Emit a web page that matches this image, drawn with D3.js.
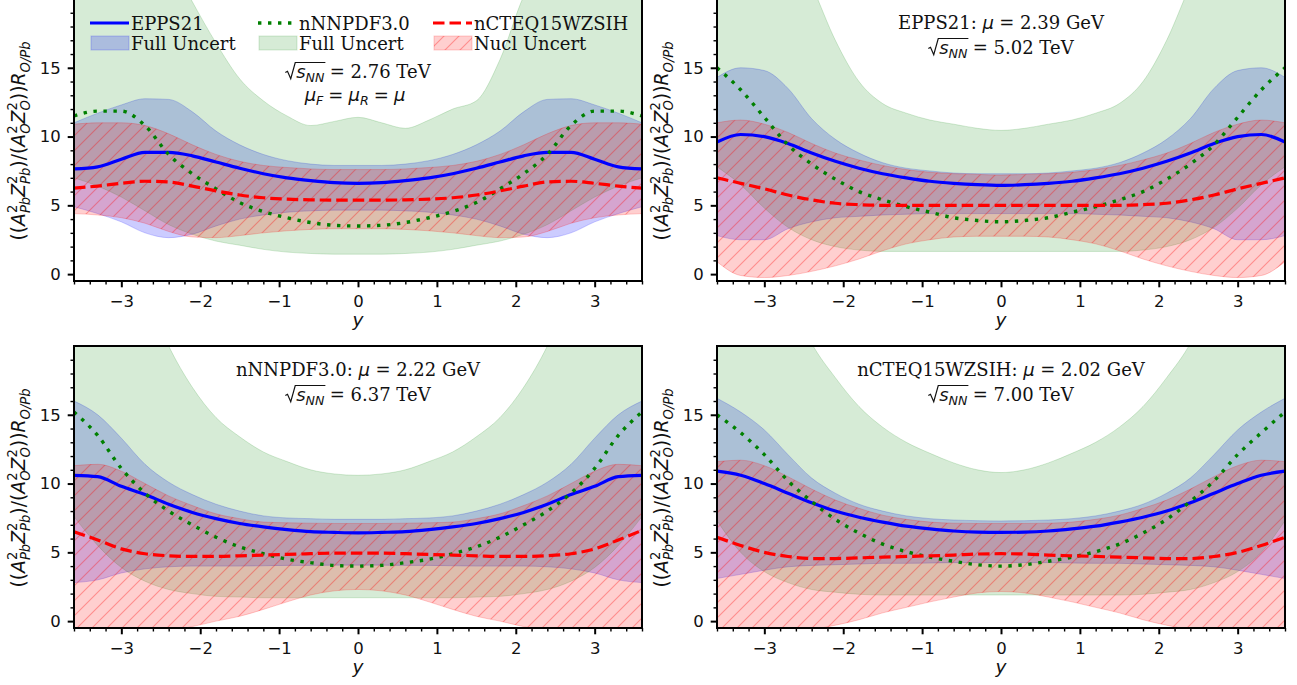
<!DOCTYPE html>
<html><head><meta charset="utf-8">
<script src="https://cdn.jsdelivr.net/npm/d3@7"></script>
<style>body{margin:0;background:#fff}text{white-space:pre}</style>
</head><body>
<script>
// ---------------- DATA ----------------
const X = [-3.6,-3.3,-3.0,-2.7,-2.4,-2.1,-1.8,-1.5,-1.2,-0.9,-0.6,-0.3,0,0.3,0.6,0.9,1.2,1.5,1.8,2.1,2.4,2.7,3.0,3.3,3.6];

// Top-left: sqrt(sNN)=2.76 TeV
const tl_epps    = [7.65,7.8,8.35,8.85,8.85,8.6,8.15,7.7,7.3,7.0,6.8,6.65,6.6,6.65,6.8,7.0,7.3,7.7,8.15,8.6,8.85,8.85,8.35,7.8,7.65];
const tl_epps_hi = [11.0,11.7,12.3,12.75,12.7,11.8,10.4,9.4,8.7,8.25,8.0,7.9,7.9,7.9,8.0,8.25,8.7,9.4,10.4,11.8,12.7,12.75,12.3,11.7,11.0];
const tl_epps_lo = [4.9,4.4,3.8,3.0,2.65,2.9,3.5,4.0,4.3,4.5,4.6,4.65,4.65,4.65,4.6,4.5,4.3,4.0,3.5,2.9,2.65,3.0,3.8,4.4,4.9];
const tl_nnpdf    = [11.5,11.85,11.85,10.8,8.7,7.3,6.2,5.2,4.55,4.1,3.75,3.55,3.5,3.55,3.75,4.1,4.55,5.2,6.2,7.3,8.7,10.8,11.85,11.85,11.5];
const tl_nnpdf_hi = [32,32,30,27,23,19.8,16.8,14.2,12.6,11.5,10.8,11.1,11.4,11.0,10.6,11.2,12.0,12.6,15.6,20.2,23,27,30,32,32];
const tl_nnpdf_lo = [7.0,6.4,5.6,4.6,3.6,2.9,2.4,2.1,1.8,1.6,1.5,1.45,1.45,1.45,1.5,1.6,1.8,2.1,2.4,2.9,3.6,4.6,5.6,6.4,7.0];
const tl_ncteq    = [6.25,6.4,6.6,6.75,6.7,6.4,6.05,5.75,5.55,5.45,5.4,5.38,5.38,5.38,5.4,5.45,5.55,5.75,6.05,6.4,6.7,6.75,6.6,6.4,6.25];
const tl_ncteq_hi = [10.9,11.0,11.0,10.8,10.2,9.4,8.7,8.2,7.9,7.75,7.65,7.6,7.6,7.6,7.65,7.75,7.9,8.2,8.7,9.4,10.2,10.8,11.0,11.0,10.9];
const tl_ncteq_lo = [4.4,4.3,4.1,3.7,3.1,2.7,2.65,2.8,3.0,3.15,3.25,3.3,3.3,3.3,3.25,3.15,3.0,2.8,2.65,2.7,3.1,3.7,4.1,4.3,4.4];

// Top-right: EPPS21 mu = 2.39 GeV, 5.02 TeV
const tr_epps    = [9.6,10.15,10.0,9.5,8.8,8.2,7.7,7.3,7.0,6.75,6.6,6.5,6.45,6.5,6.6,6.75,7.0,7.3,7.7,8.2,8.8,9.5,10.0,10.15,9.6];
const tr_epps_hi = [14.3,15.0,14.8,13.5,11.3,9.8,8.8,8.1,7.7,7.5,7.35,7.3,7.3,7.3,7.35,7.5,7.7,8.1,8.8,9.8,11.3,13.5,14.8,15.0,14.3];
const tr_epps_lo = [2.8,2.5,2.5,3.3,3.8,4.1,4.2,4.3,4.35,4.4,4.4,4.4,4.4,4.4,4.4,4.4,4.35,4.3,4.2,4.1,3.8,3.3,2.5,2.5,2.8];
const tr_nnpdf    = [15.0,13.4,11.4,9.4,8.0,6.9,6.0,5.4,4.9,4.5,4.1,3.9,3.8,3.9,4.1,4.5,4.9,5.4,6.0,6.9,8.0,9.4,11.4,13.4,15.0];
const tr_nnpdf_hi = [32,30,28,24.5,21,17.0,14.0,12.4,11.7,11.2,10.9,10.6,10.45,10.6,10.9,11.2,11.7,12.4,14.0,17.0,21,24.5,28,30,32];
const tr_nnpdf_lo = [7.8,6.5,4.8,3.4,2.5,2.0,1.75,1.65,1.65,1.65,1.65,1.65,1.65,1.65,1.65,1.65,1.65,1.65,1.75,2.0,2.5,3.4,4.8,6.5,7.8];
const tr_ncteq    = [7.0,6.6,6.2,5.75,5.4,5.15,5.05,5.0,5.0,5.0,5.0,5.0,5.0,5.0,5.0,5.0,5.0,5.0,5.05,5.15,5.4,5.75,6.2,6.6,7.0];
const tr_ncteq_hi = [11.0,11.2,10.9,10.3,9.5,8.8,8.3,7.9,7.6,7.4,7.3,7.25,7.2,7.25,7.3,7.4,7.6,7.9,8.3,8.8,9.5,10.3,10.9,11.2,11.0];
const tr_ncteq_lo = [0.9,-0.1,-0.25,-0.1,0.2,0.6,1.1,1.7,2.2,2.5,2.7,2.75,2.75,2.75,2.7,2.5,2.2,1.7,1.1,0.6,0.2,-0.1,-0.25,-0.1,0.9];

// Bottom-left: nNNPDF3.0 mu = 2.22 GeV, 6.37 TeV
const bl_epps    = [10.6,10.5,9.8,9.2,8.5,7.9,7.45,7.1,6.85,6.65,6.5,6.45,6.42,6.45,6.5,6.65,6.85,7.1,7.45,7.9,8.5,9.2,9.8,10.5,10.6];
const bl_epps_hi = [16.0,15.0,13.3,11.4,10.1,9.2,8.5,8.0,7.65,7.5,7.45,7.4,7.4,7.4,7.45,7.5,7.65,8.0,8.5,9.2,10.1,11.4,13.3,15.0,16.0];
const bl_epps_lo = [2.8,3.0,3.5,3.8,3.95,4.0,4.0,4.0,4.02,4.05,4.05,4.07,4.07,4.07,4.05,4.05,4.02,4.0,4.0,4.0,3.95,3.8,3.5,3.0,2.8];
const bl_nnpdf    = [15.2,13.5,11.1,9.3,8.0,7.0,6.1,5.4,4.9,4.5,4.25,4.05,4.0,4.05,4.25,4.5,4.9,5.4,6.1,7.0,8.0,9.3,11.1,13.5,15.2];
const bl_nnpdf_hi = [32,30,28,24,20,17,14.8,13.4,12.3,11.6,11.0,10.7,10.6,10.7,11.0,11.6,12.3,13.4,14.8,17,20,24,28,30,32];
const bl_nnpdf_lo = [7.6,5.5,3.9,2.9,2.3,2.0,1.8,1.75,1.7,1.7,1.7,1.7,1.7,1.7,1.7,1.7,1.7,1.75,1.8,2.0,2.3,2.9,3.9,5.5,7.6];
const bl_ncteq    = [6.5,5.9,5.25,4.9,4.75,4.7,4.7,4.75,4.8,4.85,4.9,4.95,4.95,4.95,4.9,4.85,4.8,4.75,4.7,4.7,4.75,4.9,5.25,5.9,6.6];
const bl_ncteq_hi = [11.3,11.4,10.9,10.0,9.1,8.4,7.8,7.45,7.2,7.15,7.12,7.1,7.1,7.1,7.12,7.15,7.2,7.45,7.8,8.4,9.1,10.0,10.9,11.4,11.3];
const bl_ncteq_lo = [-0.5,-0.7,-0.8,-0.8,-0.7,-0.4,0.0,0.35,0.85,1.4,1.9,2.2,2.3,2.2,1.9,1.4,0.85,0.35,0.0,-0.4,-0.7,-0.8,-0.8,-0.7,-0.5];

// Bottom-right: nCTEQ15WZSIH mu = 2.02 GeV, 7.00 TeV
const br_epps    = [10.9,10.6,10.0,9.3,8.6,8.0,7.55,7.2,6.9,6.7,6.55,6.47,6.45,6.47,6.55,6.7,6.9,7.2,7.55,8.0,8.6,9.3,10.0,10.6,10.9];
const br_epps_hi = [16.2,15.2,13.9,12.1,10.4,9.3,8.5,8.0,7.65,7.45,7.35,7.3,7.28,7.3,7.35,7.45,7.65,8.0,8.5,9.3,10.4,12.1,13.9,15.2,16.2];
const br_epps_lo = [3.1,3.4,3.7,3.95,4.05,4.1,4.15,4.2,4.2,4.22,4.25,4.25,4.25,4.25,4.25,4.22,4.2,4.2,4.15,4.1,4.05,3.95,3.7,3.4,3.1];
const br_nnpdf    = [15.0,13.7,12.1,10.2,8.7,7.4,6.4,5.6,5.05,4.65,4.35,4.1,4.0,4.1,4.35,4.65,5.05,5.6,6.4,7.4,8.7,10.2,12.1,13.7,15.2];
const br_nnpdf_hi = [32,30,28,24,20.2,17.7,15.6,14.1,13.0,12.2,11.5,11.0,10.8,11.0,11.5,12.2,13.0,14.1,15.6,17.7,20.2,24,28,30,32];
const br_nnpdf_lo = [7.3,5.0,3.6,2.8,2.3,2.1,1.95,1.9,1.9,1.9,1.9,1.9,1.9,1.9,1.9,1.9,1.9,1.9,1.95,2.1,2.3,2.8,3.6,5.0,7.3];
const br_ncteq    = [6.1,5.5,5.0,4.7,4.55,4.55,4.6,4.65,4.7,4.75,4.8,4.88,4.9,4.88,4.8,4.75,4.7,4.65,4.6,4.55,4.55,4.7,5.0,5.5,6.1];
const br_ncteq_hi = [11.6,11.7,11.3,10.5,9.6,8.8,8.2,7.7,7.4,7.2,7.12,7.1,7.1,7.1,7.12,7.2,7.4,7.7,8.2,8.8,9.6,10.5,11.3,11.7,11.6];
const br_ncteq_lo = [-0.6,-0.7,-0.75,-0.7,-0.6,-0.3,0.1,0.6,1.0,1.4,1.75,2.05,2.15,2.05,1.75,1.4,1.0,0.6,0.1,-0.3,-0.6,-0.7,-0.75,-0.7,-0.6];

const energies   = ['2.76','5.02','6.37','7.00'];
const scaleSets  = [null,'EPPS21','nNNPDF3.0','nCTEQ15WZSIH'];
const scaleMu    = [null,'2.39','2.22','2.02'];
const legendLines = ['EPPS21','nNNPDF3.0','nCTEQ15WZSIH'];
const legendBands = ['Full Uncert','Full Uncert','Nucl Uncert'];
const xMajor = [-3,-2,-1,0,1,2,3];
const yMajor = [0,5,10,15];

// ---------------- LAYOUT ----------------
const W = 1297, H = 685;
const SERIF = "'DejaVu Serif', serif", SANS = "'DejaVu Sans', sans-serif";
const boxes = [[74,642,-1,281],[717,1285,-1,281],[74,642,346,628],[717,1285,346,628]];
const panels = [
  {e:[tl_epps,tl_epps_lo,tl_epps_hi], n:[tl_nnpdf,tl_nnpdf_lo,tl_nnpdf_hi], c:[tl_ncteq,tl_ncteq_lo,tl_ncteq_hi]},
  {e:[tr_epps,tr_epps_lo,tr_epps_hi], n:[tr_nnpdf,tr_nnpdf_lo,tr_nnpdf_hi], c:[tr_ncteq,tr_ncteq_lo,tr_ncteq_hi]},
  {e:[bl_epps,bl_epps_lo,bl_epps_hi], n:[bl_nnpdf,bl_nnpdf_lo,bl_nnpdf_hi], c:[bl_ncteq,bl_ncteq_lo,bl_ncteq_hi]},
  {e:[br_epps,br_epps_lo,br_epps_hi], n:[br_nnpdf,br_nnpdf_lo,br_nnpdf_hi], c:[br_ncteq,br_ncteq_lo,br_ncteq_hi]}
];

const BLUE = '#0000ff', GREEN = '#008000', RED = '#ff0000';
const ST = {
  blueLine: {stroke: BLUE, w: 3.2, dash: null},
  greenLine:{stroke: GREEN, w: 3.4, dash: '3.4,6.6'},
  redLine:  {stroke: RED, w: 3.2, dash: '11.5,5'}
};

const svg = d3.select('body').append('svg').attr('width', W).attr('height', H)
  .attr('font-family', SANS);
svg.append('rect').attr('width', W).attr('height', H).attr('fill', '#fff');
const defs = svg.append('defs');
const hp = defs.append('pattern').attr('id','hatch').attr('patternUnits','userSpaceOnUse')
  .attr('width', 15).attr('height', 15);
hp.append('path').attr('d','M-4,4 L4,-4 M0,15 L15,0 M11,19 L19,11')
  .attr('stroke', RED).attr('stroke-opacity', 0.32).attr('stroke-width', 1.1).attr('fill','none');

// rich text helper
function rich(parent, runs) {
  const g = parent.append('g');
  let x = 0, prevStart = 0, prevEnd = 0, rad = null, sqEnd = 0;
  for (const r of runs) {
    if (r.gap !== undefined) { x += r.gap; continue; }
    if (r.rad) { rad = {x, s: r.s}; x += 0.6 * r.s; continue; }
    const sx = r.stack ? prevStart : x;
    const t = g.append('text').attr('x', sx).attr('y', r.dy || 0)
      .attr('font-family', r.f === 'serif' ? SERIF : SANS)
      .attr('font-size', r.s).attr('font-style', r.it ? 'italic' : 'normal')
      .attr('fill', '#111').text(r.t);
    const w = t.node().getComputedTextLength();
    const e = sx + w;
    if (r.stack) { x = Math.max(prevEnd, e); } else { x = e; prevStart = sx; }
    prevEnd = x;
    if (r.sq) sqEnd = x;
  }
  if (rad) {
    const s = rad.s, rx = rad.x, top = -0.86 * s;
    g.append('path')
      .attr('d', `M${rx},${-0.3*s} L${rx+0.12*s},${-0.37*s} L${rx+0.3*s},${0.04*s} L${rx+0.55*s},${top} L${sqEnd+1},${top}`)
      .attr('fill','none').attr('stroke','#111').attr('stroke-width',1.2);
  }
  return {g, w: x};
}
function placeRich(parent, runs, cx, cy, anchor, rot) {
  const outer = parent.append('g').attr('transform', `translate(${cx},${cy}) rotate(${rot||0})`);
  const {g, w} = rich(outer, runs);
  if (anchor === 'middle') g.attr('transform', `translate(${-w/2},0)`);
  return w;
}

const S = 18;
function sqrtRuns(E) {
  return [{rad:true, s:S}, {t:'s', it:true, s:S, sq:true}, {t:'NN', it:true, s:S*0.7, dy:S*0.2, sq:true},
          {gap:S*0.3}, {t:'= ' + E + ' TeV', f:'serif', s:S}];
}
function titleRuns(name, mu) {
  return [{t:name + ':', f:'serif', s:S}, {gap:S*0.32}, {t:'μ', it:true, s:S}, {gap:S*0.3},
          {t:'= ' + mu + ' GeV', f:'serif', s:S}];
}
const muRuns = [{t:'μ', it:true, s:S}, {t:'F', it:true, s:S*0.7, dy:S*0.22}, {gap:S*0.28}, {t:'=', s:S}, {gap:S*0.28},
                {t:'μ', it:true, s:S}, {t:'R', it:true, s:S*0.7, dy:S*0.22}, {gap:S*0.28}, {t:'=', s:S}, {gap:S*0.28},
                {t:'μ', it:true, s:S}];
const L = 18.8;
const sup = t => ({t, s:L*0.7, dy:-L*0.42});
const sub = (t, it) => ({t, s:L*0.7, dy:L*0.26, stack:true, it});
const ylabRuns = [{t:'((', s:L}, {t:'A', it:true, s:L}, sup('2'), sub('Pb', true), {t:'Z', it:true, s:L}, sup('2'), sub('Pb', true),
  {t:')/(', s:L}, {t:'A', it:true, s:L}, sup('2'), sub('O', true), {t:'Z', it:true, s:L}, sup('2'), sub('O', true),
  {t:'))', s:L}, {t:'R', it:true, s:L}, {t:'O/Pb', it:true, s:L*0.7, dy:L*0.26}];

const fmt = d => d < 0 ? '\u2212' + Math.abs(d) : String(d);

panels.forEach((p, i) => {
  const [x0, x1, y0, y1] = boxes[i];
  const x = d3.scaleLinear().domain([-3.6, 3.6]).range([x0, x1]);
  const y = d3.scaleLinear().domain([-0.5, 20]).range([y1, y0]);
  defs.append('clipPath').attr('id', 'clip' + i).append('rect')
    .attr('x', x0).attr('y', y0).attr('width', x1 - x0).attr('height', y1 - y0);
  const g = svg.append('g').attr('clip-path', `url(#clip${i})`);
  const area = (lo, hi) => d3.area().x((d, j) => x(X[j])).y0((d, j) => y(lo[j])).y1((d, j) => y(hi[j]))
    .curve(d3.curveMonotoneX)(X);
  const line = arr => d3.line().x((d, j) => x(X[j])).y((d, j) => y(arr[j])).curve(d3.curveMonotoneX)(X);

  g.append('path').attr('d', area(p.e[1], p.e[2])).attr('fill', BLUE).attr('fill-opacity', 0.2)
    .attr('stroke', BLUE).attr('stroke-opacity', 0.2).attr('stroke-width', 1);
  g.append('path').attr('d', area(p.n[1], p.n[2])).attr('fill', GREEN).attr('fill-opacity', 0.16)
    .attr('stroke', GREEN).attr('stroke-opacity', 0.16).attr('stroke-width', 1);
  g.append('path').attr('d', area(p.c[1], p.c[2])).attr('fill', RED).attr('fill-opacity', 0.19)
    .attr('stroke', RED).attr('stroke-opacity', 0.2).attr('stroke-width', 1);
  g.append('path').attr('d', area(p.c[1], p.c[2])).attr('fill', 'url(#hatch)');

  const drawLine = (arr, st) => g.append('path').attr('d', line(arr)).attr('fill', 'none')
    .attr('stroke', st.stroke).attr('stroke-width', st.w).attr('stroke-dasharray', st.dash);
  drawLine(p.e[0], ST.blueLine);
  drawLine(p.n[0], ST.greenLine);
  drawLine(p.c[0], ST.redLine);

  // axes
  const xMinor = d3.range(-18, 19).map(k => k / 5).filter(v => Math.abs(v - Math.round(v)) > 1e-6);
  const yMinor = d3.range(0, 20).filter(v => v % 5 !== 0);
  const styleAxis = (ax, wTick) => {
    ax.select('.domain').remove();
    ax.selectAll('line').attr('stroke', '#000').attr('stroke-width', wTick);
    ax.selectAll('text').attr('font-family', SANS).attr('font-size', 16.5).attr('fill', '#111');
  };
  styleAxis(svg.append('g').attr('transform', `translate(0,${y1})`)
    .call(d3.axisBottom(x).tickValues(xMinor).tickSize(3.5).tickFormat('')), 1.4);
  const xa = svg.append('g').attr('transform', `translate(0,${y1})`)
    .call(d3.axisBottom(x).tickValues(xMajor).tickSize(6.3).tickPadding(8).tickFormat(fmt));
  styleAxis(xa, 2);
  xa.selectAll('text').attr('dy', null).attr('y', 25.5);
  styleAxis(svg.append('g').attr('transform', `translate(${x0},0)`)
    .call(d3.axisLeft(y).tickValues(yMinor).tickSize(3.5).tickFormat('')), 1.4);
  const ya = svg.append('g').attr('transform', `translate(${x0},0)`)
    .call(d3.axisLeft(y).tickValues(yMajor).tickSize(6.3).tickPadding(7).tickFormat(fmt));
  styleAxis(ya, 2);

  svg.append('rect').attr('x', x0).attr('y', y0).attr('width', x1 - x0).attr('height', y1 - y0)
    .attr('fill', 'none').attr('stroke', '#000').attr('stroke-width', 2);

  // axis labels
  svg.append('text').attr('x', (x0 + x1) / 2).attr('y', y1 + 45).attr('text-anchor', 'middle')
    .attr('font-family', SANS).attr('font-style', 'italic').attr('font-size', 18.5).attr('fill', '#111').text('y');
  placeRich(svg, ylabRuns, x0 - 49, (y0 + y1) / 2 + 1, 'middle', -90);

  // annotations
  const cx = (x0 + x1) / 2;
  if (i === 0) {
    placeRich(svg, sqrtRuns(energies[i]), cx, y0 + 79, 'middle');
    placeRich(svg, muRuns, cx - 3, y0 + 102, 'middle');
  } else {
    placeRich(svg, titleRuns(scaleSets[i], scaleMu[i]), cx, y0 + 30, 'middle');
    placeRich(svg, sqrtRuns(energies[i]), cx, y0 + 55, 'middle');
  }
});

// legend (top-left panel)
const lg = svg.append('g');
const colX = [90, 258, 433];
const lineStyles = [ST.blueLine, ST.greenLine, ST.redLine];
const bandFill = [[BLUE, 0.2], [GREEN, 0.16], [RED, 0.19]];
colX.forEach((cx, k) => {
  lg.append('line').attr('x1', cx).attr('x2', cx + 39).attr('y1', 23).attr('y2', 23)
    .attr('stroke', lineStyles[k].stroke).attr('stroke-width', lineStyles[k].w)
    .attr('stroke-dasharray', lineStyles[k].dash);
  lg.append('text').attr('x', cx + 41).attr('y', 30).attr('font-family', SERIF).attr('font-size', 18)
    .attr('fill', '#111').text(legendLines[k]);
  lg.append('rect').attr('x', cx + 1).attr('y', 36).attr('width', 38).attr('height', 14)
    .attr('fill', bandFill[k][0]).attr('fill-opacity', bandFill[k][1])
    .attr('stroke', bandFill[k][0]).attr('stroke-opacity', bandFill[k][1]);
  if (k === 2) lg.append('rect').attr('x', cx + 1).attr('y', 36).attr('width', 38).attr('height', 14)
    .attr('fill', 'url(#hatch)');
  lg.append('text').attr('x', cx + 41).attr('y', 50).attr('font-family', SERIF).attr('font-size', 18)
    .attr('fill', '#111').text(legendBands[k]);
});
</script>
</body></html>
